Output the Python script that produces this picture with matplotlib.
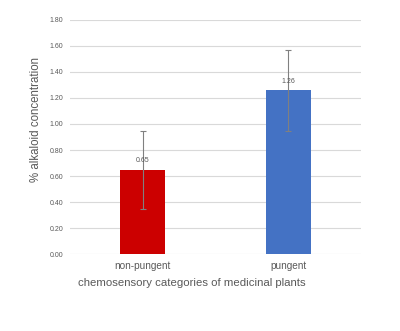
import matplotlib
matplotlib.use('Agg')
import matplotlib.pyplot as plt

plt.rcParams['font.family'] = ['Liberation Sans', 'DejaVu Sans']

#--- data
categories = ['non-pungent', 'pungent']
values     = [0.65, 1.26]
errors     = [0.30, 0.31]
colors     = ['#CC0000', '#4472C4']
yticks     = [0.0, 0.2, 0.4, 0.6, 0.8, 1.0, 1.2, 1.4, 1.6, 1.8]

txt_c = '#595959'

fig = plt.figure(figsize=(4.0, 3.31), dpi=100)
ax  = fig.add_axes([0.175, 0.2326, 0.7275, 0.707])

x = range(len(categories))
ax.bar(x, values, width=0.31, color=colors, zorder=2)
ax.errorbar(x, values, yerr=errors, fmt='none', ecolor='#808080',
            elinewidth=0.8, capsize=2, capthick=0.8, zorder=3)

#--- value labels
for xi, v in zip(x, values):
    ax.text(xi, v + 0.07, '%.2f' % v, ha='center', va='center',
            fontsize=5.0, color=txt_c, zorder=4)

#--- axes
ax.set_xlim(-0.5, 1.5)
ax.set_ylim(0, 1.8)
ax.set_yticks(yticks)
ax.set_yticklabels(['%.2f' % t for t in yticks])
ax.set_xticks(list(x))
ax.set_xticklabels(categories)
ax.tick_params(axis='y', length=0, labelsize=5.0, labelcolor=txt_c, pad=5)
ax.tick_params(axis='x', length=0, labelsize=7.2, labelcolor=txt_c, pad=5)
ax.yaxis.grid(True, color='#D9D9D9', linewidth=0.8, zorder=0)
for s in ax.spines.values():
    s.set_visible(False)

#--- axis titles
fig.text(36 / 400, 1 - 120 / 331, '% alkaloid concentration', rotation=90,
         ha='center', va='center', fontsize=8.3, color=txt_c)
fig.text(192 / 400, 1 - 283 / 331, 'chemosensory categories of medicinal plants',
         ha='center', va='center', fontsize=8.2, color=txt_c)

fig.savefig('out.png', dpi=100)
